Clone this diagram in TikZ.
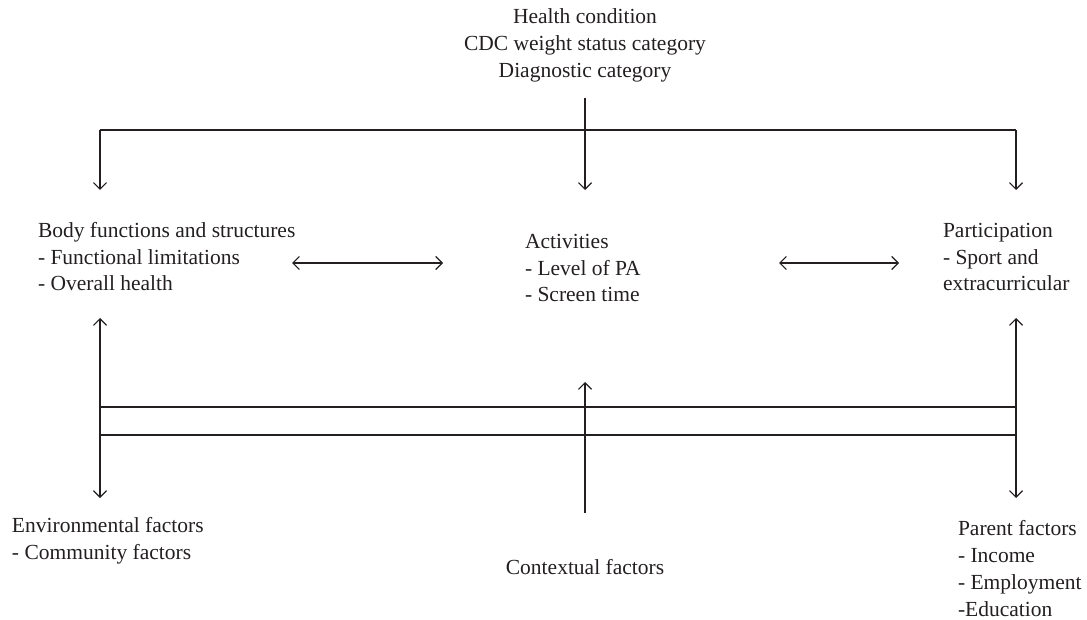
\documentclass[tikz,border=0pt]{standalone}
\usepackage{fontspec}
\setmainfont{Liberation Serif}
\usetikzlibrary{arrows.meta}
\definecolor{ink}{HTML}{231F20}
\begin{document}
\begin{tikzpicture}[x=1pt,y=-1pt,
  txt/.style={inner sep=0pt,outer sep=0pt,align=left,text=ink,font=\fontsize{21.5}{27}\selectfont},
  ctxt/.style={txt,align=center},
  conn/.style={draw=ink,line width=1.2pt},
  arr/.style={conn,-{Straight Barb[length=6.5pt,width=13pt]}},
  darr/.style={conn,{Straight Barb[length=6.5pt,width=13pt]}-{Straight Barb[length=6.5pt,width=13pt]}}]
\useasboundingbox (0,0) rectangle (1087,620);
% text blocks (base anchor = baseline of last line)
\node[ctxt,anchor=base] (hc) at (585,78) {Health condition\\CDC weight status category\\Diagnostic category};
\node[txt,anchor=base west] (body) at (38,291) {Body functions and structures\\- Functional limitations\\- Overall health};
\node[txt,anchor=base west] (act) at (525,302) {Activities\\- Level of PA\\- Screen time};
\node[txt,anchor=base west] (part) at (943,291) {Participation\\- Sport and\\extracurricular};
\node[txt,anchor=base west] (env) at (12,559) {Environmental factors\\- Community factors};
\node[ctxt,anchor=base] (ctx) at (585,574) {Contextual factors};
\node[txt,anchor=base west] (par) at (958,616) {Parent factors\\- Income\\- Employment\\-Education};
% top bracket
\coordinate (hcs) at (585,98);
\coordinate (tl) at (100,130);
\coordinate (tr) at (1016,130);
\coordinate (bodyt) at (100,190);
\coordinate (actt) at (585,190);
\coordinate (partt) at (1016,190);
\draw[arr] (hcs) -- (actt);
\draw[arr] (tl) -- (bodyt);
\draw[arr] (tr) -- (partt);
\draw[conn] (tl) -- (tr);
% horizontal double arrows
\coordinate (ba1) at (292,263);
\coordinate (ba2) at (443,263);
\coordinate (pa1) at (779,263);
\coordinate (pa2) at (899,263);
\draw[darr] (ba1) -- (ba2);
\draw[darr] (pa1) -- (pa2);
% bottom bar
\coordinate (bodyb) at (100,318);
\coordinate (envt) at (100,498);
\coordinate (partb) at (1016,318);
\coordinate (part2) at (1016,498);
\coordinate (actb) at (585,382);
\coordinate (ctxt) at (585,513);
\coordinate (l1) at (100,407);
\coordinate (r1) at (1016,407);
\coordinate (l2) at (100,435);
\coordinate (r2) at (1016,435);
\draw[conn] (l1) -- (r1);
\draw[conn] (l2) -- (r2);
\draw[darr] (bodyb) -- (envt);
\draw[darr] (partb) -- (part2);
\draw[arr] (ctxt) -- (actb);
\end{tikzpicture}
\end{document}
